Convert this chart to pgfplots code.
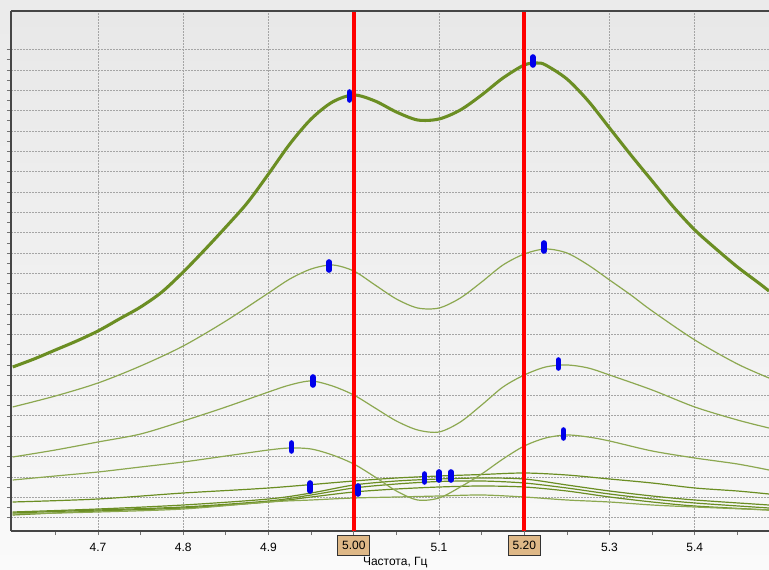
\documentclass[border=0pt]{standalone}
\usepackage{pgfplots}
\pgfplotsset{compat=1.18}
\usepackage{fontspec}
\setmainfont{Liberation Sans}
\definecolor{olv}{RGB}{107,142,35}
\definecolor{olvl}{RGB}{140,168,80}
\definecolor{tanbox}{RGB}{222,184,135}
\definecolor{grd}{RGB}{165,165,165}
\definecolor{mblue}{RGB}{0,0,235}
\definecolor{frame}{RGB}{70,70,70}
\begin{document}
\begin{tikzpicture}[x=1pt,y=1pt]
\shade[top color=black!8, bottom color=black!2] (0,0) rectangle (576.75,426.75);
\useasboundingbox (0,0) rectangle (576.75,426.75);
\begin{axis}[name=ax,
  at={(8.25pt,28.5pt)}, anchor=south west, scale only axis,
  width=568.5pt, height=390pt,
  xmin=4.598, xmax=5.487, ymin=0, ymax=520,
  axis x line*=bottom, axis y line*=left,
  x axis line style={-, draw=frame, line width=1.1pt},
  y axis line style={-, draw=frame, line width=1.5pt},
  axis background/.style={shade, top color=black!9, bottom color=black!3},
  xtick={4.7,4.8,4.9,5.1,5.3,5.4},
  xticklabels={4.7,4.8,4.9,5.1,5.3,5.4},
  minor xtick={4.65,4.75,4.85,4.95,5.05,5.15,5.25,5.35,5.45},
  extra x ticks={5.0,5.2},
  extra x tick labels={5.00,5.20},
  extra x tick style={xticklabel style={fill=tanbox, draw=black!80, line width=0.6pt, minimum width=24pt, minimum height=15pt, inner sep=1pt, yshift=1.5pt}},
  ytick={13.3,33.65,...,485},
  yticklabels={},
  minor y tick num=1,
  tick align=outside,
  major tick length=3pt, minor tick length=3pt,
  tick style={black!55, line width=0.6pt},
  xmajorgrids, ymajorgrids,
  major grid style={grd, dash pattern=on 1.5pt off 0.75pt, line width=0.7pt},
  xticklabel style={font=\fontsize{9}{10}\selectfont, anchor=center, yshift=-9pt},
  xlabel={Частота, Гц},
  xlabel style={font=\fontsize{9}{10}\selectfont, at={(axis description cs:0.507,0)}, anchor=center, yshift=-23.5pt},
  /pgf/number format/assume math mode=true,
  clip mode=individual,
]
% bottom cluster
\addplot[olv, line width=0.9pt, smooth] coordinates {(4.6,29)(4.7,32)(4.8,38)(4.9,43)(5.0,50)(5.05,53)(5.1,55)(5.15,56.5)(5.2,58)(5.25,56)(5.3,52)(5.35,48)(5.4,43)(5.45,40)(5.487,37)};
\addplot[olv, line width=0.9pt, smooth] coordinates {(4.6,19)(4.7,22)(4.8,26)(4.9,32)(4.95,38)(5.0,46)(5.05,50)(5.1,52)(5.15,53)(5.2,52)(5.25,46)(5.3,40)(5.35,35)(5.4,31)(5.487,26)};
\addplot[olv, line width=0.9pt, smooth] coordinates {(4.6,18)(4.7,21)(4.8,24)(4.9,30)(4.95,36)(5.0,43)(5.05,47)(5.1,49.5)(5.15,50)(5.2,48)(5.25,43)(5.3,37)(5.35,32)(5.4,28)(5.487,23)};
\addplot[olv, line width=0.9pt, smooth] coordinates {(4.6,16)(4.7,20)(4.8,23)(4.9,29)(4.95,34)(5.0,39)(5.05,42)(5.1,44)(5.15,45)(5.2,44)(5.25,40)(5.3,34)(5.35,29)(5.4,25)(5.487,21)};
\addplot[olvl, line width=0.9pt, smooth] coordinates {(4.6,17)(4.7,19)(4.8,22)(4.9,29)(4.95,31)(5.0,33)(5.05,34)(5.1,35)(5.15,36)(5.2,34)(5.25,31)(5.3,29)(5.35,26)(5.4,24)(5.487,21)};
% curve 4
\addplot[olvl, line width=0.9pt, smooth] coordinates {(4.6,51)(4.65,55)(4.7,59)(4.75,64)(4.8,69)(4.85,75)(4.9,81)(4.925,83)(4.95,82)(4.975,76)(5.0,67)(5.025,54)(5.05,40)(5.075,31)(5.1,33)(5.125,44)(5.15,57)(5.175,72)(5.2,85)(5.225,93)(5.25,96)(5.275,94)(5.3,90)(5.35,80)(5.4,73)(5.45,67)(5.487,61)};
% curve 3
\addplot[olvl, line width=0.9pt, smooth] coordinates {(4.6,74)(4.65,81)(4.7,89)(4.75,97)(4.8,110)(4.85,124)(4.9,139)(4.925,146)(4.95,150)(4.975,145)(5.0,136)(5.025,123)(5.05,110)(5.075,101)(5.1,99)(5.125,109)(5.15,126)(5.175,144)(5.2,156)(5.225,164)(5.25,166)(5.275,163)(5.3,156)(5.35,141)(5.4,124)(5.45,111)(5.487,103)};
% curve 2
\addplot[olvl, line width=0.9pt, smooth] coordinates {(4.6,124)(4.65,135)(4.7,148)(4.75,165)(4.8,185)(4.85,210)(4.9,238)(4.925,252)(4.95,262)(4.975,266)(5.0,260)(5.025,246)(5.05,232)(5.075,223)(5.1,223)(5.125,233)(5.15,249)(5.175,266)(5.2,277)(5.225,282)(5.25,278)(5.275,266)(5.3,251)(5.325,236)(5.35,220)(5.4,191)(5.45,167)(5.487,153)};
% main curve
\addplot[olv, line width=2.3pt, smooth] coordinates {(4.6,164)(4.625,172)(4.65,181)(4.675,190)(4.7,200)(4.725,212)(4.75,224)(4.775,239)(4.8,259)(4.825,281)(4.85,304)(4.875,328)(4.9,357)(4.925,387)(4.95,412)(4.975,429)(5.0,436)(5.025,430)(5.05,419)(5.075,411)(5.1,412)(5.125,421)(5.15,436)(5.175,453)(5.2,466)(5.215,468)(5.225,466)(5.25,452)(5.275,430)(5.3,403)(5.325,376)(5.35,350)(5.375,324)(5.4,301)(5.425,282)(5.45,264)(5.475,248)(5.487,240)};
% red lines
\addplot[red, line width=3pt] coordinates {(5.0,0)(5.0,520)};
\addplot[red, line width=3pt] coordinates {(5.2,0)(5.2,520)};
% markers
\addplot[only marks, mark=|, mark size=3pt, mblue, mark options={line width=4.2pt, line cap=round}] coordinates {(4.995,435)(5.210,470)(4.971,265)(5.223,284)(4.952,150)(5.240,167)(4.927,84)(5.246,97)(4.949,44)(5.005,41)(5.083,53)(5.100,55)(5.114,55)};
\end{axis}
\draw[frame, line width=0.8pt] (ax.north west) -- (ax.north east);
\end{tikzpicture}
\end{document}
